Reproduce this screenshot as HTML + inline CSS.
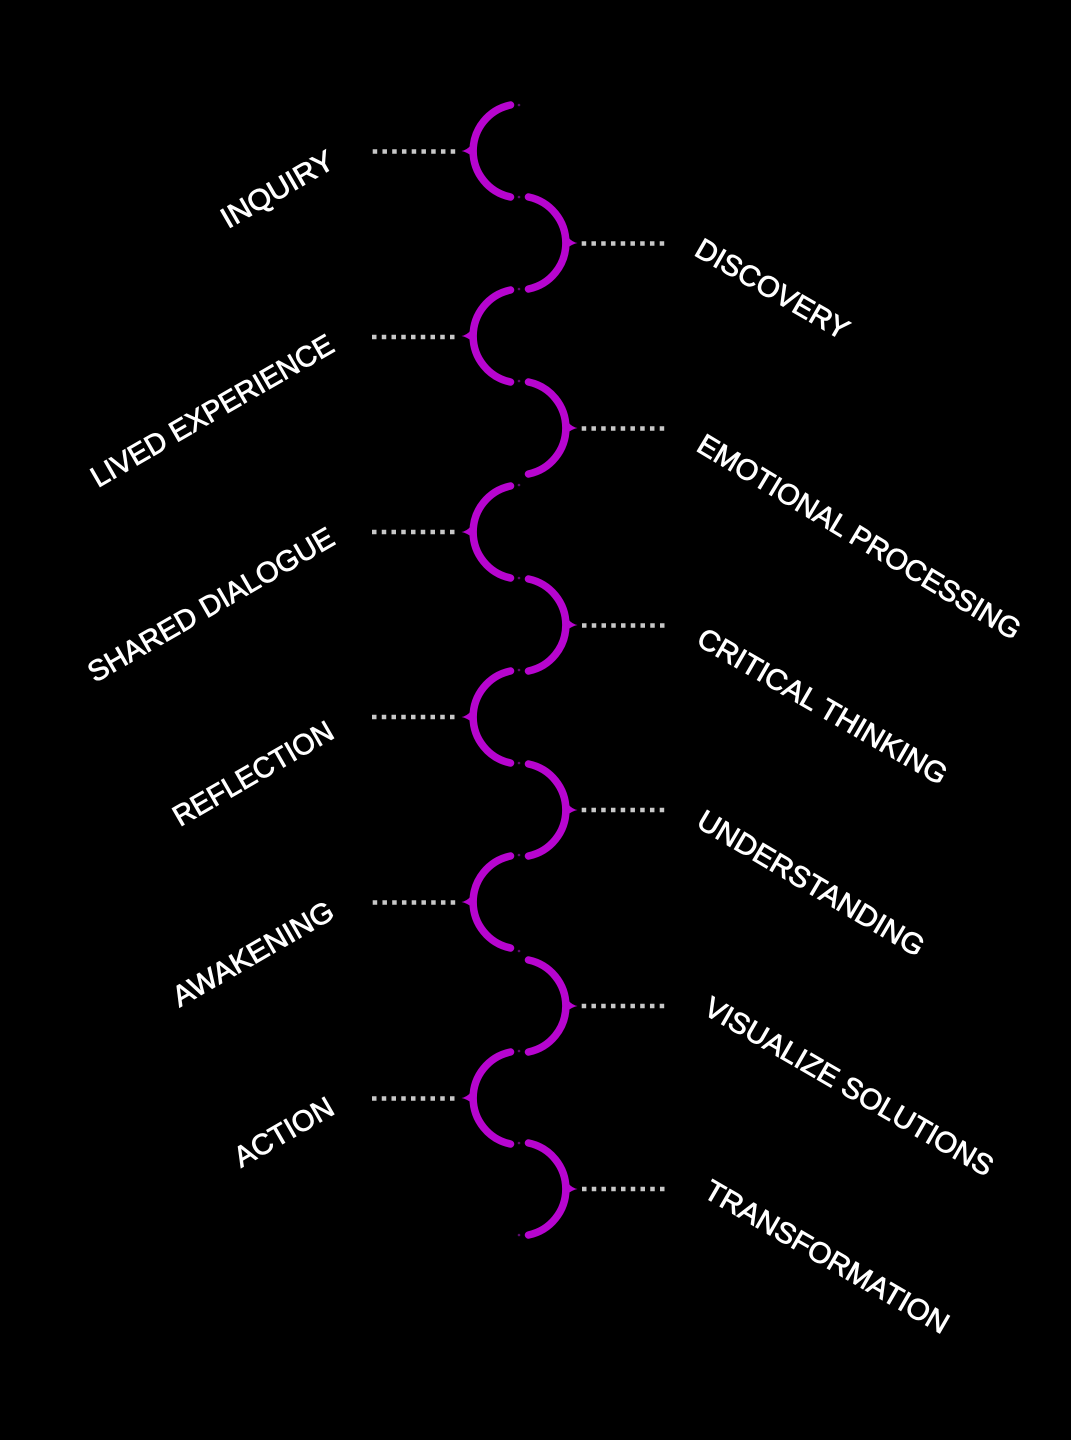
<!DOCTYPE html>
<html>
<head>
<meta charset="utf-8">
<style>
html,body{margin:0;padding:0;background:#000;width:1071px;height:1440px;overflow:hidden}
svg{display:block}
text{font-family:"Liberation Sans",sans-serif;font-size:29px;fill:#fff;stroke:#fff;stroke-width:.8}
.a{fill:none;stroke:#b705cf;stroke-width:7.5;stroke-linecap:round}
.t{fill:#b705cf}
.p{fill:#5a0a6a}
.d{fill:none;stroke:#c8c8c8;stroke-width:4.5;stroke-dasharray:4.5 5.25}
</style>
</head>
<body>
<svg width="1071" height="1440" viewBox="0 0 1071 1440" xmlns="http://www.w3.org/2000/svg">
<rect width="1071" height="1440" fill="#000"/>
<defs>
<path id="tl" class="t" d="M-9.500 0 Q-4 -1 0 -6 L2 6 Q-4 1 -9.500 0Z"/>
<path id="tr" class="t" d="M9.500 0 Q4 -1 0 -6 L-2 6 Q4 1 9.500 0Z"/>
</defs>

<!-- left arcs -->
<g>
<path class="a" d="M510.500 105 A47 47 0 0 0 510.500 197"/><use href="#tl" x="471" y="151"/>
<path class="a" d="M510.500 290 A47 47 0 0 0 510.500 382"/><use href="#tl" x="471" y="336"/>
<path class="a" d="M510.500 486 A47 47 0 0 0 510.500 578"/><use href="#tl" x="471" y="532"/>
<path class="a" d="M510.500 671 A47 47 0 0 0 510.500 763"/><use href="#tl" x="471" y="717"/>
<path class="a" d="M510.500 856 A47 47 0 0 0 510.500 948"/><use href="#tl" x="471" y="902"/>
<path class="a" d="M510.500 1052 A47 47 0 0 0 510.500 1144"/><use href="#tl" x="471" y="1098"/>
</g>
<!-- right arcs -->
<g>
<path class="a" d="M528.500 197 A47 47 0 0 1 528.500 289"/><use href="#tr" x="568" y="243"/>
<path class="a" d="M528.500 382 A47 47 0 0 1 528.500 474"/><use href="#tr" x="568" y="428"/>
<path class="a" d="M528.500 579 A47 47 0 0 1 528.500 671"/><use href="#tr" x="568" y="625"/>
<path class="a" d="M528.500 764 A47 47 0 0 1 528.500 856"/><use href="#tr" x="568" y="810"/>
<path class="a" d="M528.500 960 A47 47 0 0 1 528.500 1052"/><use href="#tr" x="568" y="1006"/>
<path class="a" d="M528.500 1143 A47 47 0 0 1 528.500 1235"/><use href="#tr" x="568" y="1189"/>
</g>

<!-- faint specks -->
<g class="p">
<circle cx="519" cy="105" r="1.300"/><circle cx="519" cy="197" r="1.300"/><circle cx="519" cy="289" r="1.300"/>
<circle cx="519" cy="381" r="1.300"/><circle cx="519" cy="485" r="1.300"/><circle cx="519" cy="578" r="1.300"/>
<circle cx="519" cy="670" r="1.300"/><circle cx="519" cy="763" r="1.300"/><circle cx="519" cy="855" r="1.300"/>
<circle cx="519" cy="951" r="1.300"/><circle cx="519" cy="1051" r="1.300"/><circle cx="519" cy="1143" r="1.300"/>
<circle cx="519" cy="1235" r="1.300"/>
</g>

<!-- dotted leaders -->
<path class="d" d="M372.700 151.500H456"/>
<path class="d" d="M581.700 243.500H665"/>
<path class="d" d="M372 337H455"/>
<path class="d" d="M581.700 428.500H665"/>
<path class="d" d="M372 532H455"/>
<path class="d" d="M582 625.500H665"/>
<path class="d" d="M372 717H455"/>
<path class="d" d="M581.700 810H665"/>
<path class="d" d="M372.700 902.500H456"/>
<path class="d" d="M581.700 1006H665"/>
<path class="d" d="M372 1098.500H455"/>
<path class="d" d="M582 1189H665"/>

<!-- left labels -->
<text transform="translate(228 229) rotate(-30)" textLength="125" lengthAdjust="spacingAndGlyphs">INQUIRY</text>
<text transform="translate(98 488) rotate(-30)" textLength="275" lengthAdjust="spacingAndGlyphs">LIVED EXPERIENCE</text>
<text transform="translate(95 683) rotate(-30)" textLength="279" lengthAdjust="spacingAndGlyphs">SHARED DIALOGUE</text>
<text transform="translate(180 827) rotate(-30)" textLength="180" lengthAdjust="spacingAndGlyphs">REFLECTION</text>
<text transform="translate(179.500 1007.500) rotate(-30)" textLength="181" lengthAdjust="spacingAndGlyphs">AWAKENING</text>
<text transform="translate(241 1168) rotate(-30)" textLength="110" lengthAdjust="spacingAndGlyphs">ACTION</text>

<!-- right labels -->
<text transform="translate(693 254.500) rotate(30)" textLength="172" lengthAdjust="spacingAndGlyphs">DISCOVERY</text>
<text transform="translate(695 450) rotate(30.900)" textLength="371" lengthAdjust="spacingAndGlyphs">EMOTIONAL PROCESSING</text>
<text transform="translate(695 644) rotate(30)" textLength="283" lengthAdjust="spacingAndGlyphs">CRITICAL THINKING</text>
<text transform="translate(695 826) rotate(30.600)" textLength="258" lengthAdjust="spacingAndGlyphs">UNDERSTANDING</text>
<text transform="translate(702 1013) rotate(30)" textLength="328" lengthAdjust="spacingAndGlyphs">VISUALIZE SOLUTIONS</text>
<text transform="translate(702 1196) rotate(30)" textLength="277" lengthAdjust="spacingAndGlyphs">TRANSFORMATION</text>
</svg>
</body>
</html>
